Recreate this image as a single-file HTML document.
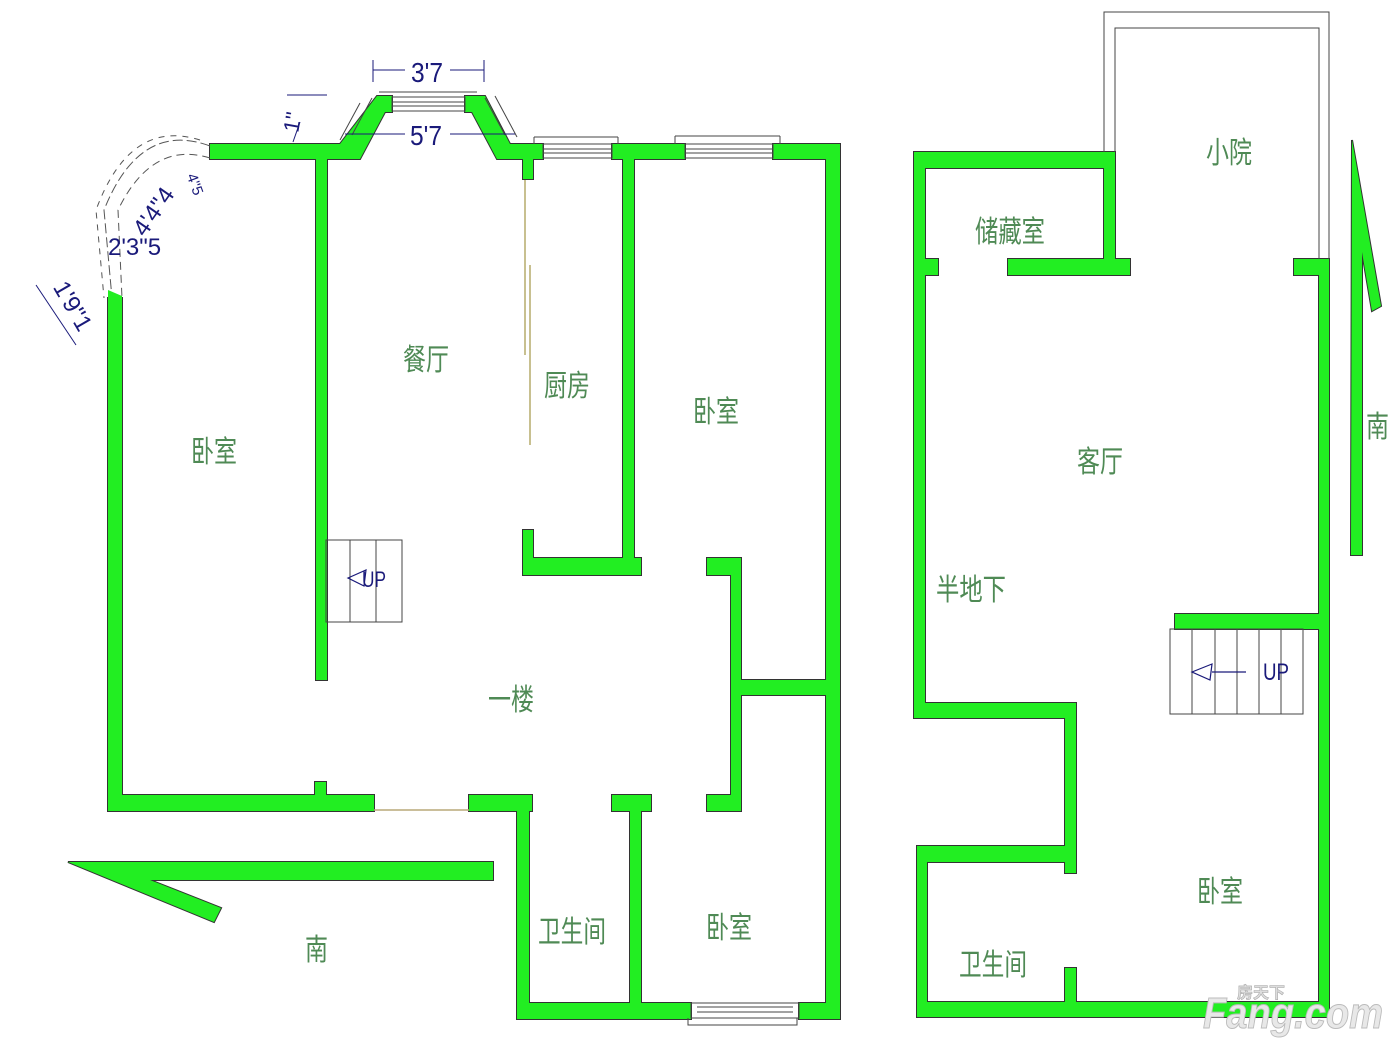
<!DOCTYPE html>
<html><head><meta charset="utf-8"><style>
html,body{margin:0;padding:0;background:#fff;}
svg{display:block}
.t{font-family:"Liberation Sans","Noto Sans CJK SC",sans-serif;fill:#4f8a55;font-size:30px}
.d{font-family:"Liberation Sans",sans-serif;fill:#1a1a7a}
</style></head><body>
<svg width="1400" height="1050" viewBox="0 0 1400 1050" xmlns="http://www.w3.org/2000/svg">
<defs>
<g id="walls">
<rect x="210" y="144" width="137" height="15"/>
<rect x="316" y="144" width="11" height="536"/>
<polygon points="340,144 347,159 360,159 385,112 392,112 392,96 377,96"/>
<polygon points="465,96 465,112 472,112 497,159 510,159 510,144 485,96"/>
<rect x="508" y="144" width="35" height="15"/>
<rect x="523" y="144" width="10" height="35"/>
<rect x="612" y="144" width="73" height="15"/>
<rect x="773" y="144" width="67" height="15"/>
<rect x="826" y="144" width="14" height="875"/>
<rect x="108" y="298" width="14" height="513"/>
<rect x="108" y="795" width="266" height="16"/>
<rect x="315" y="782" width="11" height="20"/>
<rect x="469" y="795" width="63" height="16"/>
<rect x="623" y="159" width="11" height="416"/>
<rect x="523" y="558" width="118" height="17"/>
<rect x="523" y="530" width="10" height="45"/>
<rect x="707" y="558" width="34" height="17"/>
<rect x="731" y="558" width="10" height="253"/>
<rect x="707" y="795" width="34" height="16"/>
<rect x="741" y="680" width="90" height="15"/>
<rect x="517" y="795" width="12" height="224"/>
<rect x="517" y="1003" width="174" height="16"/>
<rect x="799" y="1003" width="41" height="16"/>
<rect x="612" y="795" width="39" height="16"/>
<rect x="630" y="795" width="11" height="215"/>
<rect x="914" y="152" width="201" height="16"/>
<rect x="1104" y="152" width="11" height="123"/>
<rect x="1008" y="259" width="122" height="16"/>
<rect x="914" y="152" width="11" height="566"/>
<rect x="914" y="259" width="24" height="16"/>
<rect x="1294" y="259" width="35" height="16"/>
<rect x="1319" y="259" width="10" height="758"/>
<rect x="914" y="703" width="162" height="15"/>
<rect x="1065" y="703" width="11" height="170"/>
<rect x="917" y="846" width="159" height="16"/>
<rect x="917" y="846" width="10" height="171"/>
<rect x="917" y="1002" width="412" height="15"/>
<rect x="1065" y="968" width="11" height="40"/>
<rect x="1175" y="614" width="154" height="15"/>
<polygon points="68,862 493,862 493,880 150,880 221,908 214,922"/>
<polygon points="1352,140 1381,306 1372,311 1362,252 1362,555 1351,555"/>
</g>
</defs>
<use href="#walls" fill="#333" stroke="#333" stroke-width="2"/>
<use href="#walls" fill="#22ee22"/>

<g fill="none" stroke="#444" stroke-width="1">
<rect x="392" y="97" width="73" height="14"/><line x1="392" y1="102" x2="465" y2="102"/><line x1="392" y1="106" x2="465" y2="106"/>
<line x1="379" y1="92" x2="477" y2="92"/>
<rect x="543" y="144" width="69" height="14"/><line x1="543" y1="149" x2="612" y2="149"/><line x1="543" y1="153" x2="612" y2="153"/>
<line x1="534" y1="137" x2="618" y2="137"/><line x1="534" y1="137" x2="534" y2="144"/><line x1="618" y1="137" x2="618" y2="144"/>
<rect x="685" y="144" width="88" height="14"/><line x1="685" y1="149" x2="773" y2="149"/><line x1="685" y1="153" x2="773" y2="153"/>
<line x1="675" y1="136" x2="780" y2="136"/><line x1="675" y1="136" x2="675" y2="144"/><line x1="780" y1="136" x2="780" y2="144"/>
<rect x="691" y="1003" width="108" height="15"/><line x1="697" y1="1007" x2="793" y2="1007"/><line x1="697" y1="1012" x2="793" y2="1012"/>
<polyline points="688,1018 688,1025 797,1025 797,1018"/>
<polyline points="1104,152 1104,12 1329,12 1329,259"/>
<polyline points="1115,152 1115,28 1319,28 1319,259"/>
<rect x="326" y="540" width="76" height="82"/><line x1="350" y1="540" x2="350" y2="622"/><line x1="376" y1="540" x2="376" y2="622"/>
<rect x="1170" y="629" width="133" height="85"/>
<line x1="1192" y1="629" x2="1192" y2="714"/><line x1="1215" y1="629" x2="1215" y2="714"/><line x1="1237" y1="629" x2="1237" y2="714"/><line x1="1259" y1="629" x2="1259" y2="714"/><line x1="1281" y1="629" x2="1281" y2="714"/>
<line x1="352" y1="135" x2="372" y2="98"/><line x1="340" y1="140" x2="360" y2="103"/>
<line x1="485" y1="98" x2="505" y2="135"/><line x1="495" y1="96" x2="517" y2="137"/>
</g>
<line x1="374" y1="810" x2="469" y2="810" stroke="#b8a878" stroke-width="1.5"/>
<line x1="525" y1="180" x2="525" y2="355" stroke="#c8c090" stroke-width="2"/>
<line x1="530" y1="265" x2="530" y2="445" stroke="#c8c090" stroke-width="2"/>
<g fill="none" stroke="#555" stroke-width="1">
<path d="M210,146 Q140,120 104,210 L112,298" stroke-dasharray="10,4"/>
<path d="M210,158 Q152,140 118,210 L122,298" stroke-dasharray="8,5"/>
<path d="M200,140 Q130,118 96,210 L104,298" stroke-dasharray="6,6"/>
</g>
<polygon points="108,290 122,296 122,306 108,306" fill="#22ee22"/>
<g fill="none" stroke="#1a1a7a" stroke-width="1.2">
<polygon points="1192,672 1212,664 1210,680"/><line x1="1212" y1="672" x2="1246" y2="672"/>
<polygon points="348,578 366,570 364,586"/>
</g>
<g stroke="#1a1a7a" stroke-width="1" fill="none">
<line x1="373" y1="70" x2="405" y2="70"/><line x1="450" y1="70" x2="484" y2="70"/>
<line x1="373" y1="60" x2="373" y2="82"/><line x1="484" y1="60" x2="484" y2="82"/>
<line x1="345" y1="134" x2="405" y2="134"/><line x1="450" y1="134" x2="515" y2="134"/>
<line x1="287" y1="95" x2="327" y2="95"/><line x1="293" y1="142" x2="300" y2="122"/>
<line x1="36" y1="285" x2="76" y2="345"/>
</g>
<text class="d" x="411" y="82" font-size="28" textLength="32" lengthAdjust="spacingAndGlyphs">3'7</text>
<text class="d" x="410" y="145" font-size="28" textLength="32" lengthAdjust="spacingAndGlyphs">5'7</text>
<text class="d" x="282" y="130" font-size="22" transform="rotate(-80 292 122)">1"</text>
<text class="d" x="120" y="230" font-size="24" transform="rotate(-55 140 210)">4'4"4</text>
<text class="d" x="108" y="255" font-size="24">2'3"5</text>
<text class="d" x="180" y="185" font-size="15" transform="rotate(70 190 185)">4"5</text>
<text class="d" x="45" y="300" font-size="24" transform="rotate(60 60 300)">1'9"1</text>
<text class="d" x="362" y="587" font-size="22" textLength="24" lengthAdjust="spacingAndGlyphs">UP</text>
<text class="d" x="1263" y="680" font-size="24" textLength="26" lengthAdjust="spacingAndGlyphs">UP</text>
<g class="t" lengthAdjust="spacingAndGlyphs">
<text class="t" x="403" y="370" textLength="46" lengthAdjust="spacingAndGlyphs">餐厅</text>
<text class="t" x="544" y="396" textLength="46" lengthAdjust="spacingAndGlyphs">厨房</text>
<text class="t" x="191" y="462" textLength="46" lengthAdjust="spacingAndGlyphs">卧室</text>
<text class="t" x="693" y="422" textLength="46" lengthAdjust="spacingAndGlyphs">卧室</text>
<text class="t" x="488" y="710" textLength="46" lengthAdjust="spacingAndGlyphs">一楼</text>
<text class="t" x="538" y="942" textLength="68" lengthAdjust="spacingAndGlyphs">卫生间</text>
<text class="t" x="706" y="938" textLength="46" lengthAdjust="spacingAndGlyphs">卧室</text>
<text class="t" x="305" y="960" textLength="23" lengthAdjust="spacingAndGlyphs">南</text>
<text class="t" x="1206" y="163" textLength="46" lengthAdjust="spacingAndGlyphs">小院</text>
<text class="t" x="975" y="242" textLength="70" lengthAdjust="spacingAndGlyphs">储藏室</text>
<text class="t" x="1077" y="472" textLength="46" lengthAdjust="spacingAndGlyphs">客厅</text>
<text class="t" x="936" y="600" textLength="70" lengthAdjust="spacingAndGlyphs">半地下</text>
<text class="t" x="1197" y="902" textLength="46" lengthAdjust="spacingAndGlyphs">卧室</text>
<text class="t" x="959" y="975" textLength="68" lengthAdjust="spacingAndGlyphs">卫生间</text>
<text class="t" x="1366" y="437" textLength="23" lengthAdjust="spacingAndGlyphs">南</text>
</g>
<text x="1203" y="1028" font-family="Liberation Sans,sans-serif" font-size="44" font-weight="bold" font-style="italic" fill="#e8e8e8" stroke="#bbb" stroke-width="1" textLength="180" lengthAdjust="spacingAndGlyphs">Fang.com</text>
<text x="1237" y="998" font-family="Liberation Sans,'Noto Sans CJK SC',sans-serif" font-size="16" font-weight="bold" fill="#ddd" stroke="#aaa" stroke-width="0.6">房天下</text>
</svg>
</body></html>
